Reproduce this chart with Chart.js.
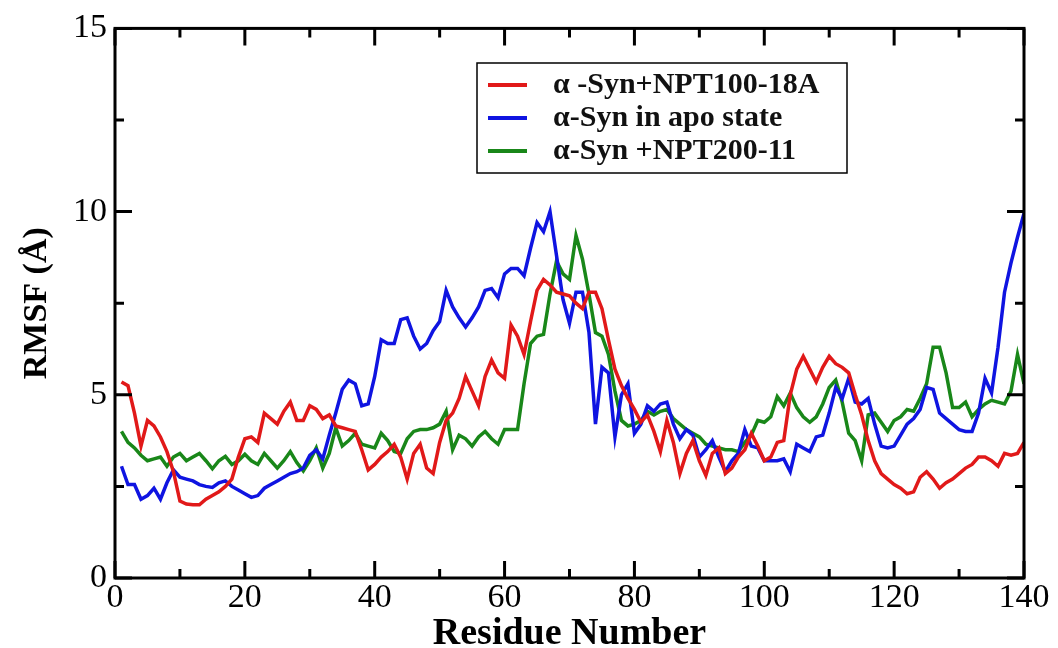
<!DOCTYPE html>
<html>
<head>
<meta charset="utf-8">
<title>RMSF</title>
<script src="https://cdn.jsdelivr.net/npm/chart.js@4.4.1/dist/chart.umd.min.js"></script>
<style>
  body { margin: 0; background: #fff; }
  canvas { display: block; }
</style>
</head>
<body>
<canvas id="graficoRmsf" width="1058" height="648"></canvas>
<script>
// residue numbers 1..140
const residuos = Array.from({ length: 140 }, (_, i) => i + 1);

const etiquetas = ["\u03b1 -Syn+NPT100-18A", "\u03b1-Syn in apo state", "\u03b1-Syn +NPT200-11"];

// RMSF values (Å)
const rmsfNpt100 = [
  5.35, 5.25, 4.5, 3.6, 4.3, 4.15, 3.85, 3.45, 2.9, 2.1,
  2.02, 2.0, 2.0, 2.15, 2.25, 2.35, 2.5, 2.7, 3.3, 3.8,
  3.85, 3.7, 4.5, 4.35, 4.2, 4.55, 4.8, 4.3, 4.3, 4.7,
  4.6, 4.35, 4.45, 4.15, 4.1, 4.05, 4.0, 3.5, 2.95, 3.1,
  3.3, 3.45, 3.65, 3.3, 2.7, 3.4, 3.65, 3.0, 2.85, 3.7,
  4.3, 4.5, 4.9, 5.5, 5.1, 4.7, 5.5, 5.95, 5.6, 5.45,
  6.9, 6.6, 6.1, 7.0, 7.85, 8.15, 8.0, 7.8, 7.75, 7.7,
  7.5, 7.35, 7.8, 7.8, 7.35, 6.5, 5.7, 5.25, 4.9, 4.6,
  4.25, 4.45, 4.0, 3.45, 4.3, 3.7, 2.85, 3.4, 3.75, 3.2,
  2.8, 3.4, 3.55, 2.85, 3.0, 3.3, 3.5, 3.95, 3.6, 3.2,
  3.3, 3.7, 3.75, 5.0, 5.7, 6.05, 5.7, 5.35, 5.75, 6.05,
  5.85, 5.75, 5.6, 5.0, 4.45, 3.75, 3.2, 2.85, 2.7, 2.55,
  2.45, 2.3, 2.35, 2.75, 2.9, 2.7, 2.45, 2.6, 2.7, 2.85,
  3.0, 3.1, 3.3, 3.3, 3.2, 3.05, 3.4, 3.35, 3.4, 3.7
];

const rmsfApo = [
  3.05, 2.55, 2.55, 2.15, 2.25, 2.45, 2.15, 2.6, 2.95, 2.75,
  2.7, 2.65, 2.55, 2.5, 2.47, 2.6, 2.65, 2.5, 2.4, 2.3,
  2.2, 2.25, 2.45, 2.55, 2.65, 2.75, 2.85, 2.9, 3.0, 3.35,
  3.5, 3.25, 3.9, 4.5, 5.15, 5.4, 5.3, 4.7, 4.75, 5.5,
  6.5, 6.4, 6.4, 7.05, 7.1, 6.6, 6.25, 6.4, 6.75, 7.0,
  7.85, 7.4, 7.1, 6.85, 7.1, 7.4, 7.85, 7.9, 7.65, 8.3,
  8.45, 8.45, 8.25, 9.0, 9.7, 9.45, 10.0, 8.8, 7.6, 6.95,
  7.8, 7.8, 6.7, 4.2, 5.75, 5.6, 3.85, 5.0, 5.3, 3.95,
  4.2, 4.7, 4.55, 4.75, 4.8, 4.2, 3.8, 4.05, 3.9, 3.3,
  3.5, 3.75, 3.3, 2.9, 3.2, 3.4, 4.05, 3.6, 3.55, 3.2,
  3.2, 3.2, 3.25, 2.9, 3.65, 3.55, 3.45, 3.85, 3.9, 4.5,
  5.2, 4.9, 5.45, 4.8, 4.75, 4.9, 4.2, 3.6, 3.55, 3.6,
  3.9, 4.2, 4.35, 4.6, 5.2, 5.15, 4.5, 4.35, 4.2, 4.05,
  4.0, 4.0, 4.5, 5.45, 5.05, 6.3, 7.8, 8.6, 9.3, 9.95
];

const rmsfNpt200 = [
  4.0, 3.7, 3.55, 3.35, 3.2, 3.25, 3.3, 3.05, 3.3, 3.4,
  3.2, 3.3, 3.4, 3.2, 2.98, 3.2, 3.32, 3.1, 3.2, 3.38,
  3.2, 3.1, 3.4, 3.2, 3.0, 3.2, 3.45, 3.15, 2.92, 3.2,
  3.55, 3.0, 3.4, 4.1, 3.6, 3.75, 3.95, 3.65, 3.6, 3.55,
  3.95, 3.75, 3.45, 3.4, 3.8, 4.0, 4.05, 4.05, 4.1, 4.2,
  4.55, 3.5, 3.9, 3.8, 3.6, 3.85, 4.0, 3.8, 3.65, 4.05,
  4.05, 4.05, 5.3, 6.4, 6.6, 6.65, 7.75, 8.65, 8.3, 8.15,
  9.35, 8.7, 7.75, 6.7, 6.6, 6.1, 5.1, 4.3, 4.15, 4.2,
  4.3, 4.55, 4.45, 4.55, 4.6, 4.35, 4.2, 4.05, 3.95, 3.85,
  3.65, 3.6, 3.55, 3.5, 3.5, 3.45, 3.7, 3.9, 4.3, 4.25,
  4.4, 4.95, 4.7, 5.05, 4.65, 4.4, 4.25, 4.4, 4.75, 5.2,
  5.4, 4.8, 3.95, 3.75, 3.2, 4.45, 4.5, 4.25, 4.0, 4.3,
  4.4, 4.6, 4.55, 4.9, 5.3, 6.3, 6.3, 5.6, 4.65, 4.65,
  4.8, 4.4, 4.6, 4.75, 4.85, 4.8, 4.75, 5.1, 6.1, 5.3
];

const colores = ["rgb(225,25,25)", "rgb(15,20,225)", "rgb(25,135,25)"];

const ticksX = [0, 20, 40, 60, 80, 100, 120, 140];
const ticksY = [0, 5, 10, 15];

const fuenteSerif = "'Liberation Serif', 'Times New Roman', serif";

// frame with inward ticks on all four sides + legend box inside the plot
const marcoXmgrace = {
  id: "marcoXmgrace",
  afterDatasetsDraw(chart) {
    const { ctx, chartArea: a, scales } = chart;
    const x = scales.x, y = scales.y;
    ctx.save();
    ctx.strokeStyle = "#000";
    ctx.lineWidth = 3;
    ctx.strokeRect(a.left, a.top, a.right - a.left, a.bottom - a.top);

    ctx.beginPath();
    for (let v = 0; v <= 140; v += 10) {
      const px = x.getPixelForValue(v);
      const len = v % 20 === 0 ? 17 : 9;
      ctx.moveTo(px, a.bottom); ctx.lineTo(px, a.bottom - len);
      ctx.moveTo(px, a.top); ctx.lineTo(px, a.top + len);
    }
    for (let v = 0; v <= 15; v += 2.5) {
      const py = y.getPixelForValue(v);
      const len = v % 5 === 0 ? 17 : 9;
      ctx.moveTo(a.left, py); ctx.lineTo(a.left + len, py);
      ctx.moveTo(a.right, py); ctx.lineTo(a.right - len, py);
    }
    ctx.stroke();

    // legend
    const caja = { left: 477, top: 63, right: 847, bottom: 173 };
    ctx.fillStyle = "#fff";
    ctx.fillRect(caja.left, caja.top, caja.right - caja.left, caja.bottom - caja.top);
    ctx.lineWidth = 1.5;
    ctx.strokeRect(caja.left, caja.top, caja.right - caja.left, caja.bottom - caja.top);
    ctx.font = "bold 30px " + fuenteSerif;
    ctx.textBaseline = "middle";
    chart.data.datasets.forEach((ds, i) => {
      const cy = 85 + i * 33;
      ctx.strokeStyle = ds.borderColor;
      ctx.lineWidth = 4;
      ctx.beginPath();
      ctx.moveTo(488, cy); ctx.lineTo(527, cy);
      ctx.stroke();
      ctx.fillStyle = "#111";
      ctx.fillText(ds.label, 553, cy);
    });
    ctx.restore();
  }
};

window.addEventListener("load", () => {
  const ctx = document.querySelector("#graficoRmsf").getContext("2d");

  const series = [rmsfNpt100, rmsfApo, rmsfNpt200];

  const datosDelGrafico = {
    type: "line",
    data: {
      datasets: series.map((valores, i) => ({
        label: etiquetas[i],
        data: residuos.map((r, k) => ({ x: r, y: valores[k] })),
        borderColor: colores[i],
        borderWidth: 3.5,
        pointRadius: 0,
        tension: 0,
        fill: false
      }))
    },
    options: {
      responsive: false,
      animation: false,
      layout: { padding: { top: 23, right: 34, left: 0, bottom: 0 } },
      plugins: { legend: { display: false }, tooltip: { enabled: false } },
      scales: {
        x: {
          type: "linear",
          min: 0, max: 140,
          afterBuildTicks: (s) => { s.ticks = ticksX.map(v => ({ value: v })); },
          afterFit: (s) => { s.height = 70; },
          grid: { display: false, drawTicks: false },
          border: { display: false },
          ticks: { color: "#000", padding: 0, font: { family: fuenteSerif, size: 34 } },
          title: {
            display: true, text: "Residue Number", color: "#000",
            padding: 0,
            font: { family: fuenteSerif, size: 38, weight: "bold", lineHeight: 0.75 }
          }
        },
        y: {
          min: 0, max: 15,
          afterBuildTicks: (s) => { s.ticks = ticksY.map(v => ({ value: v })); },
          afterFit: (s) => { s.width = 115; },
          grid: { display: false, drawTicks: false },
          border: { display: false },
          ticks: { color: "#000", padding: 8, font: { family: fuenteSerif, size: 34 } },
          title: {
            display: true, text: "RMSF (\u00c5)", color: "#000",
            padding: { top: 17, bottom: 0 },
            font: { family: fuenteSerif, size: 34, weight: "bold" }
          }
        }
      }
    },
    plugins: [marcoXmgrace]
  };

  new Chart(ctx, datosDelGrafico);
});
</script>
</body>
</html>
